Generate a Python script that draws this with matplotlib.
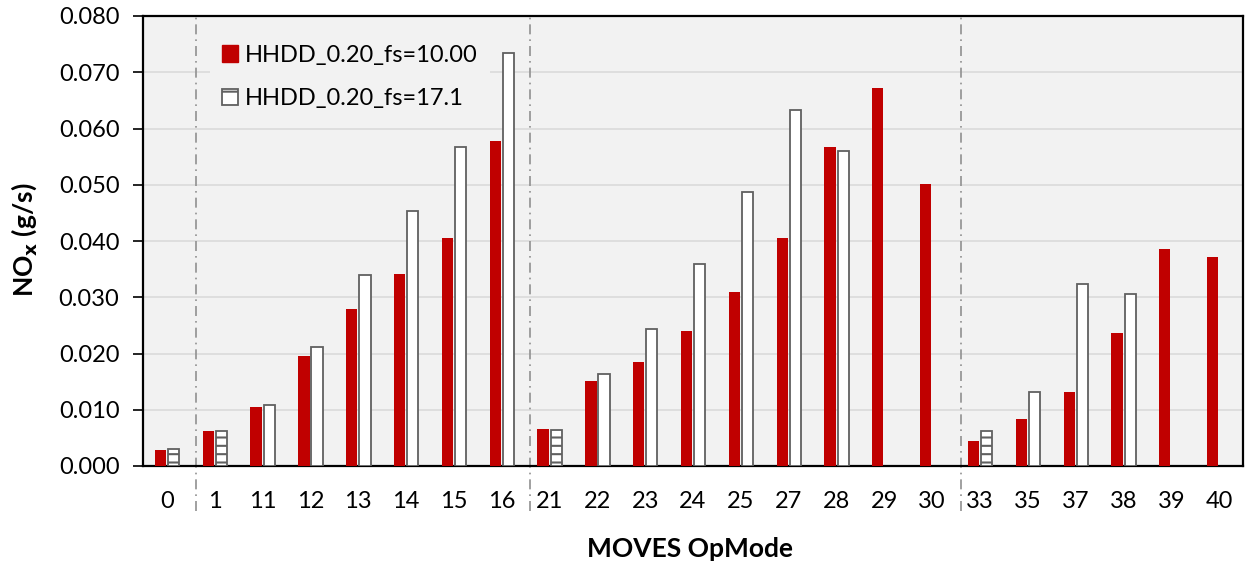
import matplotlib
matplotlib.use("Agg")
import matplotlib.pyplot as plt
import numpy as np
from matplotlib.patches import Patch

plt.rcParams['font.family'] = ['Lato', 'DejaVu Sans']
plt.rcParams['hatch.color'] = '#404040'
plt.rcParams['hatch.linewidth'] = 1.5

opmodes = ['0', '1', '11', '12', '13', '14', '15', '16', '21', '22', '23', '24',
           '25', '27', '28', '29', '30', '33', '35', '37', '38', '39', '40']
fs10 = [0.0028, 0.0062, 0.0105, 0.0196, 0.0279, 0.0341, 0.0405, 0.0578,
        0.0066, 0.0151, 0.0185, 0.0240, 0.0309, 0.0405, 0.0567, 0.0672, 0.0501,
        0.0044, 0.0084, 0.0132, 0.0236, 0.0386, 0.0372]
fs17 = [0.0030, 0.0062, 0.0108, 0.0212, 0.0340, 0.0453, 0.0567, 0.0734,
        0.0064, 0.0164, 0.0244, 0.0359, 0.0487, 0.0633, 0.0560, np.nan, np.nan,
        0.0062, 0.0132, 0.0324, 0.0306, np.nan, np.nan]
hatched = ['0', '1', '21', '33']
group_starts = ['1', '21', '33']
series_names = ['HHDD_0.20_fs=10.00', 'HHDD_0.20_fs=17.1']

W, H = 1249, 567
fig = plt.figure(figsize=(W / 100, H / 100), dpi=100)
ax = fig.add_axes([143 / W, 1 - 466 / H, 1100 / W, 450 / H])
ax.set_facecolor('#f2f2f2')

x = np.arange(len(opmodes))
w = 0.235
ax.bar(x - 0.135, fs10, width=w, color='#c00000', zorder=3)
for i, v in enumerate(fs17):
    if np.isnan(v):
        continue
    ax.bar(x[i] + 0.14, v, width=w, facecolor='white', edgecolor='#606060',
           linewidth=1.3, hatch='--' if opmodes[i] in hatched else None, zorder=3)

ax.set_xlim(-0.5, len(opmodes) - 0.5)
ax.set_ylim(0, 0.08)
yt = np.arange(0, 0.0801, 0.01)
ax.set_yticks(yt)
ax.set_yticklabels([f'{t:.3f}' for t in yt])
ax.set_xticks(x)
ax.set_xticklabels(opmodes)
ax.tick_params(axis='x', length=0, labelsize=17, pad=18)
ax.tick_params(axis='y', length=7, width=1.2, direction='out', labelsize=17, pad=10)
ax.yaxis.grid(True, color='#dadada', linewidth=1.2, zorder=0)
ax.set_axisbelow(True)
for s in ax.spines.values():
    s.set_color('black')
    s.set_linewidth(1.6)

for g in group_starts:
    xi = opmodes.index(g) - 0.4
    ax.plot([xi, xi], [-0.1, 1], transform=ax.get_xaxis_transform(),
            color='#909090', linestyle=(0, (6, 3, 1, 3)), linewidth=1.2,
            clip_on=False, zorder=1)

fig.text(24 / W, 1 - 240 / H, 'NO$_\\mathbf{x}$ (g/s)', rotation=90, fontsize=19,
         fontweight='bold', ha='center', va='center')
fig.text(690 / W, 1 - 549 / H, 'MOVES OpMode', fontsize=19, fontweight='bold',
         ha='center', va='center')

handles = [Patch(facecolor='#c00000', edgecolor='#c00000'),
           Patch(facecolor='white', edgecolor='#606060', hatch='-', linewidth=1.3)]
leg = ax.legend(handles, series_names, loc='upper left', bbox_to_anchor=(0.05, 0.988),
                fontsize=17, frameon=True, facecolor='#f2f2f2', edgecolor='none',
                framealpha=1, handlelength=0.7, handleheight=0.7, handletextpad=0.3,
                labelspacing=0.95, borderpad=0.5)
leg.set_zorder(5)

fig.savefig('out.png', dpi=100, facecolor='white')
